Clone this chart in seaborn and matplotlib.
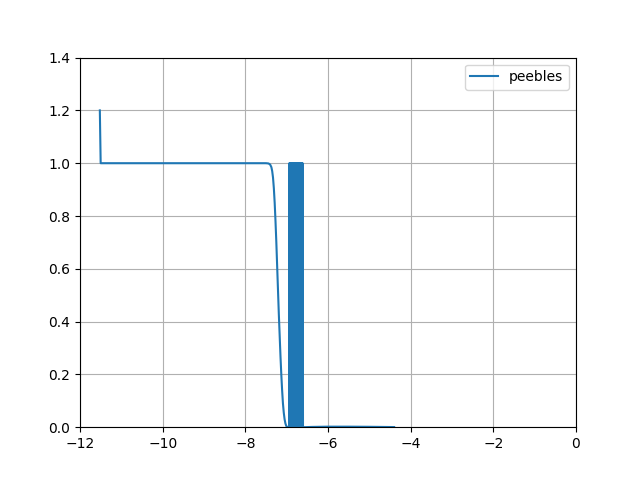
import matplotlib
matplotlib.use("Agg")
import matplotlib.pyplot as plt
import seaborn as sns
import pandas as pd

# main curve (start spike, plateau, sigmoid drop)
x_main = [-11.52, -11.50, -11.0, -10.0, -9.0, -8.0, -7.5, -7.44, -7.40, -7.37,
          -7.35, -7.33, -7.31, -7.29, -7.27, -7.25, -7.23, -7.21, -7.19, -7.17,
          -7.15, -7.13, -7.11, -7.09, -7.07, -7.05, -7.03, -7.01, -6.99, -6.96,
          -6.94]
y_main = [1.2, 1.0, 1.0, 1.0, 1.0, 1.0, 1.0, 0.999, 0.995, 0.985,
          0.97, 0.945, 0.905, 0.85, 0.78, 0.70, 0.61, 0.52, 0.43, 0.35,
          0.27, 0.20, 0.14, 0.09, 0.055, 0.03, 0.014, 0.005, 0.001, 0.0,
          0.0]

# dense oscillation block
x_osc = [-6.935, -6.925, -6.915, -6.905, -6.895, -6.885, -6.875, -6.865, -6.855, -6.845,
         -6.835, -6.825, -6.815, -6.805, -6.795, -6.785, -6.775, -6.765, -6.755, -6.745,
         -6.735, -6.725, -6.715, -6.705, -6.695, -6.685, -6.675, -6.665, -6.655, -6.645,
         -6.635, -6.625, -6.615, -6.605]
y_osc = [1.0, 0.0, 1.0, 0.0, 1.0, 0.0, 1.0, 0.0, 1.0, 0.0,
         1.0, 0.0, 1.0, 0.0, 1.0, 0.0, 1.0, 0.0, 1.0, 0.0,
         1.0, 0.0, 1.0, 0.0, 1.0, 0.0, 1.0, 0.0, 1.0, 0.0,
         1.0, 0.0, 1.0, 0.0]

# small tail near zero
x_tail = [-6.58, -6.4, -6.0, -5.5, -5.0, -4.7, -4.4]
y_tail = [0.0, 0.001, 0.002, 0.002, 0.0015, 0.001, 0.0005]

x_all = x_main + x_osc + x_tail
y_all = y_main + y_osc + y_tail
df = pd.DataFrame({"x": x_all, "y": y_all})

fig, ax = plt.subplots(figsize=(6.4, 4.8), dpi=100)
sns.lineplot(data=df, x="x", y="y", sort=False, estimator=None, ax=ax,
             color="#1f77b4", linewidth=1.5, label="peebles")
ax.set_xlim(-12, 0)
ax.set_ylim(0, 1.4)
ax.set_xticks([-12, -10, -8, -6, -4, -2, 0])
ax.set_yticks([0.0, 0.2, 0.4, 0.6, 0.8, 1.0, 1.2, 1.4])
ax.set_xlabel("")
ax.set_ylabel("")
ax.grid(True)
ax.legend(loc="upper right")
fig.savefig("out.png", dpi=100)
